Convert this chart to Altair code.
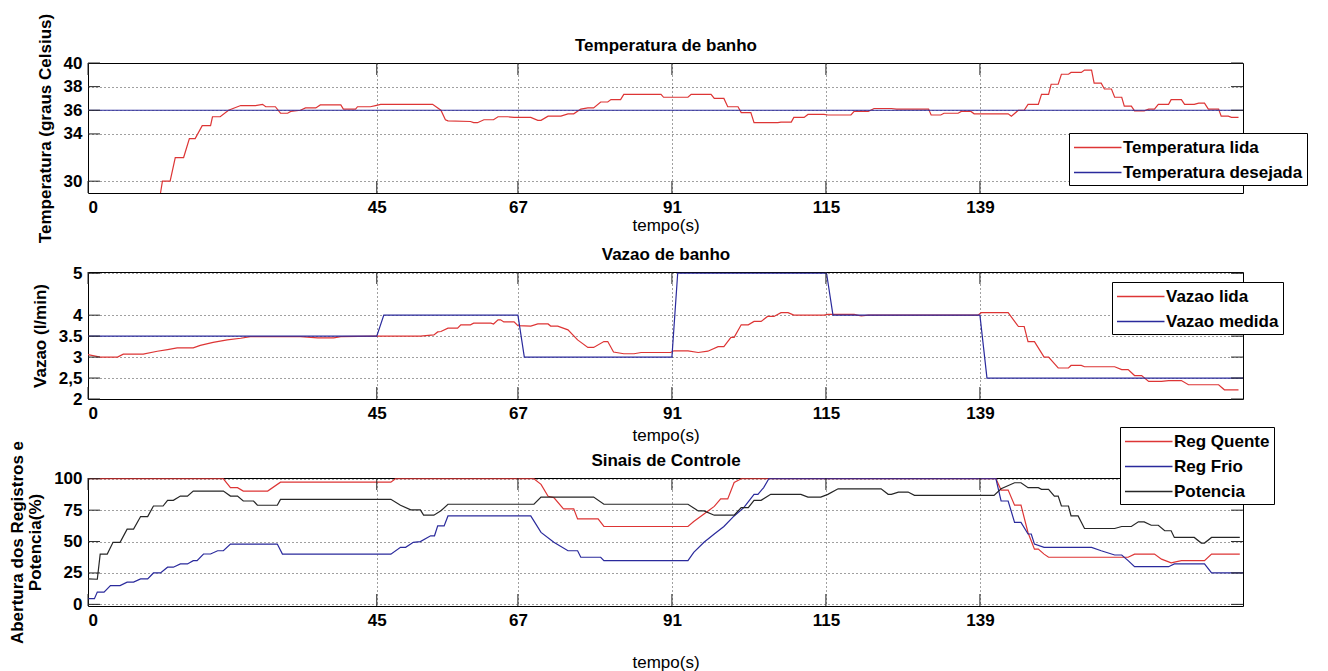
import altair as alt
import pandas as pd

# ---------------- data ----------------
x_ticks = [0, 45, 67, 91, 115, 139]

temp_names = ["Temperatura lida", "Temperatura desejada"]
temp_lida = [(11.3,29.0),(11.6,30.0),(12.8,30.0),(13.6,32.0),(14.9,32.0),(15.8,33.6),(16.7,33.6),(17.8,34.7),(19.1,34.7),(19.4,35.45),(20.6,35.45),(21.9,36.0),(23.8,36.4),(26.1,36.4),(27.2,36.5),(27.7,36.3),(29.2,36.3),(30.0,35.75),(31.1,35.75),(31.6,35.9),(33.1,36.0),(33.9,36.2),(35.5,36.2),(36.2,36.45),(39.4,36.45),(39.8,36.1),(41.7,36.1),(42.0,36.3),(44.0,36.3),(44.8,36.4),(45.6,36.5),(53.7,36.5),(55.0,36.0),(55.7,35.2),(56.1,35.1),(59.6,35.05),(60.1,34.95),(60.7,34.95),(61.7,35.2),(63.2,35.2),(63.9,35.45),(65.4,35.45),(66.4,35.4),(69.0,35.4),(70.1,35.15),(70.6,35.15),(71.7,35.5),(73.7,35.5),(74.8,35.7),(75.7,35.7),(76.8,36.1),(77.9,36.2),(78.8,36.2),(79.9,36.7),(81.0,36.7),(81.5,36.9),(83.0,36.9),(83.5,37.35),(89.3,37.35),(89.7,37.1),(93.5,37.1),(94.0,37.35),(97.1,37.35),(97.6,37.0),(99.1,37.0),(99.7,36.3),(101.3,36.3),(101.8,35.8),(103.3,35.8),(103.8,34.95),(107.5,34.95),(108.0,35.0),(109.6,35.0),(110.0,35.4),(111.6,35.4),(112.2,35.65),(114.7,35.65),(115.3,35.6),(118.9,35.6),(119.4,35.9),(121.6,35.9),(122.5,36.15),(125.2,36.15),(126.0,36.1),(131.0,36.1),(131.4,35.6),(132.9,35.6),(133.4,35.75),(135.6,35.75),(136.1,35.9),(137.6,35.9),(138.1,35.7),(143.4,35.7),(143.9,35.5),(145.0,36.0),(145.9,36.0),(146.5,36.5),(148.1,36.5),(148.6,37.35),(149.7,37.35),(150.1,38.2),(151.2,38.2),(151.7,39.05),(152.8,39.05),(153.2,39.2),(154.8,39.2),(155.3,39.4),(156.4,39.4),(156.8,38.3),(157.9,38.3),(158.4,37.8),(159.5,37.8),(160.0,37.1),(161.1,37.1),(161.5,36.35),(162.6,36.35),(163.1,35.95),(164.6,35.95),(165.3,36.1),(166.2,36.1),(166.8,36.5),(168.4,36.5),(168.8,36.9),(170.4,36.9),(170.9,36.5),(172.4,36.5),(173.1,36.6),(174.0,36.6),(174.6,36.1),(176.2,36.1),(176.6,35.5),(177.7,35.5),(178.2,35.4),(179.3,35.4)]
temp_desejada = [(0, 36.0), (180, 36.0)]

vazao_names = ["Vazao lida", "Vazao medida"]
vazao_lida = [(0,3.06),(1.9,3.0),(4.6,3.0),(5.5,3.07),(8.6,3.07),(10.8,3.14),(12.4,3.18),(13.9,3.22),(16.4,3.22),(17.5,3.28),(19.5,3.35),(21.7,3.41),(23.8,3.45),(25.3,3.49),(33.1,3.49),(35.8,3.46),(38.3,3.46),(39.4,3.49),(45.1,3.5),(51.8,3.5),(53.9,3.53),(54.5,3.6),(55.0,3.61),(56.1,3.69),(57.6,3.69),(58.1,3.77),(59.6,3.77),(60.1,3.81),(62.8,3.81),(63.2,3.79),(63.9,3.89),(64.3,3.89),(64.8,3.84),(66.4,3.84),(67.0,3.75),(69.0,3.74),(70.1,3.79),(71.7,3.79),(72.1,3.74),(73.2,3.74),(74.8,3.65),(76.3,3.41),(77.9,3.23),(78.8,3.23),(80.4,3.37),(81.0,3.37),(81.9,3.12),(83.5,3.08),(85.1,3.08),(86.2,3.11),(90.8,3.11),(91.3,3.15),(93.5,3.15),(95.1,3.11),(96.6,3.14),(98.2,3.25),(99.1,3.25),(100.2,3.47),(100.7,3.47),(101.8,3.77),(102.9,3.77),(103.8,3.85),(104.9,3.85),(105.9,3.97),(106.9,3.97),(108.0,4.06),(109.1,4.06),(110.0,4.0),(114.7,4.0),(115.3,4.02),(119.4,4.02),(120.5,3.98),(121.6,4.0),(138.7,4.0),(139.2,4.06),(143.4,4.06),(145.0,3.73),(145.9,3.73),(146.5,3.37),(147.5,3.37),(149.0,3.0),(149.7,3.0),(151.2,2.74),(152.8,2.74),(153.2,2.8),(154.8,2.8),(155.3,2.77),(160.0,2.77),(161.1,2.7),(162.1,2.7),(163.1,2.56),(164.2,2.56),(165.3,2.42),(167.3,2.42),(168.4,2.44),(170.4,2.44),(171.5,2.34),(176.2,2.34),(177.1,2.22),(179.3,2.22)]
vazao_medida = [(0,3.5),(45,3.5),(46.1,4.0),(67,4.0),(68,3.0),(91,3.0),(91.9,5.0),(115.1,5.0),(116.1,4.0),(139,4.0),(140.1,2.5),(180,2.5)]

ctrl_names = ["Reg Quente", "Reg Frio", "Potencia"]
reg_quente = [(0,100),(21.1,100),(22.2,92.9),(23.3,92.9),(24.2,90.2),(28.0,90.2),(30.0,97.3),(47.2,97.3),(47.9,100),(69.5,100),(70.6,95.5),(71.7,86),(72.6,85),(74.1,76),(75.7,76),(76.3,68),(79.5,68),(80.4,62),(93.5,62),(94.4,66),(96.0,72),(97.6,78),(98.6,84),(99.7,84),(100.7,97),(101.8,100),(141.5,100),(142.3,91),(143.4,91),(144.4,79),(145.4,79),(146.5,57),(147.5,44),(148.1,44),(149.0,40),(149.7,37.5),(162.1,37.5),(163.1,40),(166.2,40),(167.3,36),(168.8,33),(170.4,34.8),(174.0,34.8),(175.1,40),(179.5,40)]
reg_frio = [(0,4.5),(1.0,4.5),(1.45,9.8),(2.5,9.8),(3.5,15),(5.0,15),(6.1,17.7),(7.1,17.7),(8.2,20.3),(9.3,20.3),(10.2,25),(11.3,25),(12.4,29.6),(13.3,29.6),(14.4,32.2),(15.5,32.2),(16.4,34.8),(17.0,34.8),(18.0,40.1),(19.1,40.1),(20.2,42.7),(21.1,42.7),(22.2,48),(29.5,48),(30.3,40),(47.2,40),(48.7,45.4),(49.5,45.4),(50.7,49.4),(51.8,50),(53.4,54.6),(54.0,54.6),(54.5,62.5),(55.5,62.5),(56.1,70.4),(69.0,70.4),(70.6,57.3),(72.6,49.4),(74.8,42.7),(76.3,42.7),(76.8,37.5),(79.9,37.5),(80.4,34.8),(93.5,34.8),(94.4,41.4),(96.0,49.4),(97.6,56),(99.1,62),(100.7,70.4),(102.2,77),(103.8,87.6),(104.4,87.6),(105.3,93),(106.1,100),(141.5,100),(142.3,82.3),(143.4,82.3),(144.4,65.2),(145.4,65.2),(146.5,56),(147.0,56),(147.5,48),(149.0,45.4),(156.4,45.4),(157.9,42.7),(160.0,39.3),(161.1,39.3),(162.1,34.8),(163.1,30),(168.4,30),(169.3,32.2),(174.0,32.2),(175.1,25),(180,25)]
potencia = [(0,20.3),(1.45,20),(1.9,40),(3.0,40),(3.9,49.4),(5.0,49.4),(6.1,59.9),(7.1,59.9),(8.2,69.9),(9.3,69.9),(10.2,78.3),(11.7,78.3),(12.4,82.8),(13.3,82.8),(14.4,86.2),(15.5,86.2),(16.4,90.2),(21.1,90.2),(22.2,86.2),(23.3,86.2),(24.2,82.3),(25.8,82.3),(26.4,78.9),(29.5,78.9),(30.0,83.6),(47.2,83.6),(48.7,78.9),(50.3,75.2),(51.8,75.2),(52.3,71),(53.9,71),(55.0,74.5),(56.1,79.7),(69.5,79.7),(70.6,85.4),(78.8,85.4),(80.4,79.7),(93.5,79.7),(95.1,74.4),(96.0,74.4),(97.6,71),(100.7,71),(101.8,77),(102.9,77),(103.8,82.8),(104.9,82.8),(106.4,87.6),(111.1,87.6),(112.2,85.4),(114.2,85.4),(115.3,87.6),(116.9,92),(123.6,92),(124.7,87.6),(125.2,87.6),(126.3,89.4),(127.8,89.4),(128.8,86.8),(141.2,86.8),(142.3,92),(144.4,96.8),(145.4,96.8),(146.5,92.9),(148.1,92.9),(148.6,91.6),(149.7,91.6),(150.6,86.2),(151.2,86.2),(151.7,78.3),(152.8,78.3),(153.2,70.4),(154.3,70.4),(155.3,60.4),(160.0,60.4),(161.1,62),(162.6,62),(163.7,65.7),(164.6,65.7),(165.7,63),(166.8,63),(167.8,58.6),(168.8,58.6),(169.3,53.3),(172.4,53.3),(173.5,48.8),(174.0,48.8),(175.1,53.3),(179.5,53.3)]

temp_yticks = [30, 34, 36, 38, 40]
vazao_yticks = [2, 2.5, 3, 3.5, 4, 5]
ctrl_yticks = [0, 25, 50, 75, 100]

# ---------------- style ----------------
FONT = "Liberation Sans"
RED = "#dd3535"
BLUE = "#2a2a9c"
BLACK = "#262626"
W = 1155
TICK = 12


def make_df(names, series):
    rows = []
    for i, (name, pts) in enumerate(zip(names, series)):
        for t, v in pts:
            rows.append({"t": t, "v": v, "serie": name, "k": i})
    return pd.DataFrame(rows)


def panel(df, names, colors, ydom, yvals, ytitle, title, H, lx, ly,
          xtitle_pad, label_expr):
    xscale = alt.Scale(domain=[0, 180], nice=False, zero=False)
    xenc = alt.X("t:Q", scale=xscale,
                 axis=alt.Axis(values=x_ticks, title="tempo(s)", titlePadding=xtitle_pad))
    xnone = alt.X("t:Q", scale=xscale, axis=None)
    xtop = alt.X("t:Q", scale=xscale,
                 axis=alt.Axis(orient="top", values=x_ticks, title=title, labels=False,
                               grid=False, ticks=False, domain=False,
                               titleFontWeight="bold", titleBaseline="alphabetic",
                               titlePadding=13))
    yenc = alt.Y("v:Q", scale=alt.Scale(domain=ydom, nice=False, zero=False),
                 axis=alt.Axis(values=yvals, title=ytitle, labelExpr=label_expr))
    lines = alt.Chart(df).mark_line(strokeWidth=1.2, clip=True).encode(
        x=xenc, y=yenc,
        color=alt.Color("serie:N",
                        scale=alt.Scale(domain=names, range=colors),
                        sort=names,
                        legend=alt.Legend(
                            orient="none", legendX=lx, legendY=ly, title=None,
                            symbolType="M-1,0H4", symbolSize=361,
                            symbolStrokeWidth=1.3,
                            labelFont=FONT, labelFontSize=17, labelFontWeight="bold",
                            labelColor="black", labelOffset=29, labelLimit=400,
                            fillColor="white", strokeColor="black",
                            padding=4, rowPadding=6)),
        detail="k:O",
    )
    xt = pd.DataFrame({"t": x_ticks})
    yt = pd.DataFrame({"v": yvals})
    top_t = alt.Chart(xt).mark_rule(color=BLACK).encode(
        x=xtop, y=alt.value(0), y2=alt.value(TICK))
    bot_t = alt.Chart(xt).mark_rule(color=BLACK).encode(
        x=xnone, y=alt.value(H - TICK), y2=alt.value(H))
    left_t = alt.Chart(yt).mark_rule(color=BLACK).encode(
        y=yenc, x=alt.value(0), x2=alt.value(TICK))
    right_t = alt.Chart(yt).mark_rule(color=BLACK).encode(
        y=yenc, x=alt.value(W - TICK), x2=alt.value(W))
    return alt.layer(lines, top_t, bot_t, left_t, right_t).resolve_axis(
        x="independent").properties(width=W, height=H)


int_label = "datum.label"
p1 = panel(make_df(temp_names, [temp_lida, temp_desejada]), temp_names, [RED, BLUE],
           [29, 40], temp_yticks, "Temperatura (graus Celsius)", "Temperatura de banho",
           130, 981, 70, 2, int_label)
p2 = panel(make_df(vazao_names, [vazao_lida, vazao_medida]), vazao_names, [RED, BLUE],
           [2, 5.03], vazao_yticks, "Vazao (l/min)", "Vazao de banho",
           127, 1024, 10, 6,
           "datum.value == 2.5 ? '2,5' : (datum.value == 3.5 ? '3.5' : format(datum.value, 'd'))")
p3 = panel(make_df(ctrl_names, [reg_quente, reg_frio, potencia]), ctrl_names, [RED, BLUE, BLACK],
           [-1.3, 100.6], ctrl_yticks, ["Abertura dos Registros e", "Potencia(%)"], "Sinais de Controle",
           128, 1032, -51, 26, int_label)

chart = alt.vconcat(p1, p2, p3, spacing=79, bounds="flush").resolve_scale(
    color="independent", x="independent", y="independent"
).resolve_legend(color="independent").properties(
    padding={"left": 0, "top": 4, "right": 2, "bottom": 0}
).configure_view(
    stroke="black", strokeWidth=1
).configure_axis(
    grid=True, gridDash=[1, 3], gridColor="black", gridOpacity=0.75, gridWidth=1,
    domain=False, ticks=False,
    labelFont=FONT, labelFontSize=17, labelFontWeight="bold", labelColor="black",
    labelPadding=6,
    titleFont=FONT, titleFontSize=17, titleColor="black", titlePadding=9,
).configure_axisX(
    titleFontWeight="normal"
).configure_axisY(
    titleFontWeight="bold", titleLineHeight=18
)

chart.save("out.html", embed_options={"renderer": "svg", "actions": False})
